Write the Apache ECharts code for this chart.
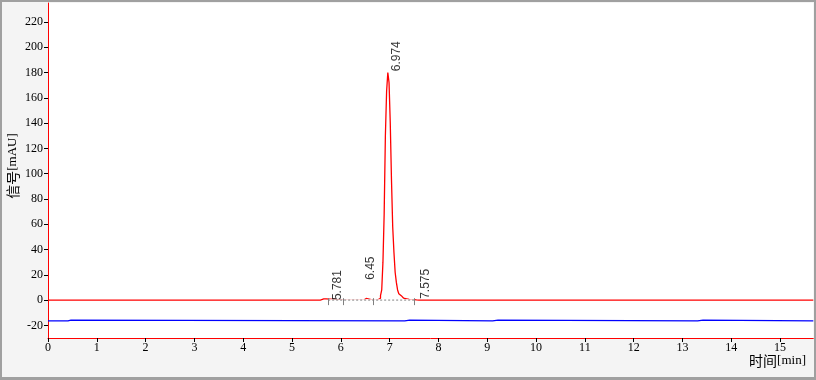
<!DOCTYPE html>
<html>
<head>
<meta charset="utf-8">
<script src="https://cdn.jsdelivr.net/npm/echarts@6/dist/echarts.min.js"></script>
<style>html,body{margin:0;padding:0;background:#f4f4f4}#c{width:816px;height:380px}</style>
</head>
<body>
<div id="c"></div>
<script>
// ---- data ----
var xTicks = [0,1,2,3,4,5,6,7,8,9,10,11,12,13,14,15];
var yTicks = [-20,0,20,40,60,80,100,120,140,160,180,200,220];
var signalTime = [0, 5.58, 5.6, 5.7, 5.72, 6.47, 6.49, 6.55, 6.57, 6.75, 6.775, 6.8, 6.825, 6.85, 6.875, 6.9, 6.925, 6.95, 6.975, 7.0, 7.025, 7.05, 7.075, 7.1, 7.125, 7.15, 7.175, 7.2, 7.225, 7.25, 7.275, 7.3, 7.325, 7.35, 7.375, 7.4, 7.45, 7.5, 7.55, 7.6, 15.68];
var signalValue = [0, 0, 0.9, 0.9, 0, 0, 1.3, 1.3, 0, 0, 0.5, 1.5, 3.5, 8, 30, 68, 130, 165, 180, 172, 140, 95, 58, 38, 22, 14, 8, 5, 3.5, 2.5, 2, 1.5, 1.2, 1, 0.8, 0.6, 0.4, 0.3, 0.1, 0, 0];
var refTime = [0, 0.41, 0.43, 0.47, 0.49, 0.51, 7.31, 7.33, 7.41, 7.43, 7.45, 9.11, 9.13, 9.22, 9.24, 9.26, 13.31, 13.33, 13.42, 13.44, 13.46, 15.68];
var refValue = [-16.4, -16.4, -15.8, -15.8, -16.6, -16.4, -16.4, -15.8, -15.8, -16.6, -16.4, -16.4, -15.8, -15.8, -16.6, -16.4, -16.4, -15.8, -15.8, -16.6, -16.4, -16.4];
var peakTime = [5.781, 6.45, 6.974, 7.575];
var peakLabel = ['5.781', '6.45', '6.974', '7.575'];
var peakLabelHeight = [0, 16, 181, 1];
var baseStart = 5.74, baseEnd = 7.508;
var baseMarks = [5.74, 6.045, 6.674, 7.508];

function zip(a, b) { return a.map(function (v, i) { return [v, b[i]]; }); }

var chart = echarts.init(document.getElementById('c'), null, {renderer: 'canvas'});
var serif = '"Liberation Serif","Noto Sans CJK SC",serif';
var cjk = '"Noto Sans CJK SC",sans-serif';
var nameRich = {
  c: {font: '14px ' + cjk, fill: '#000'},
  s: {font: '13px ' + serif, fill: '#000'}
};
chart.setOption({
  animation: false,
  backgroundColor: '#f4f4f4',
  grid: {left: 48, top: 3, right: 2.7, bottom: 42, show: true, backgroundColor: '#ffffff', borderWidth: 0},
  xAxis: {
    type: 'value', min: 0, max: 15.68,
    axisLine: {onZero: false, lineStyle: {color: '#ff0000', width: 1}},
    axisTick: {customValues: xTicks, length: 4, lineStyle: {color: '#000'}},
    axisLabel: {customValues: xTicks, color: '#000', fontFamily: serif, fontSize: 12, margin: 4},
    splitLine: {show: false}
  },
  yAxis: {
    type: 'value', min: -30, max: 235,
    axisLine: {onZero: false, lineStyle: {color: '#ff0000', width: 1}},
    axisTick: {customValues: yTicks, length: 4, lineStyle: {color: '#000'}},
    axisLabel: {customValues: yTicks, color: '#000', fontFamily: serif, fontSize: 12, margin: 5},
    splitLine: {show: false}
  },
  graphic: [
    {type: 'rect', shape: {x: 0, y: 0, width: 816, height: 2}, style: {fill: '#a0a0a0'}, z: 100},
    {type: 'rect', shape: {x: 0, y: 0, width: 2, height: 380}, style: {fill: '#a0a0a0'}, z: 100},
    {type: 'rect', shape: {x: 814, y: 0, width: 2, height: 380}, style: {fill: '#a0a0a0'}, z: 100},
    {type: 'rect', shape: {x: 0, y: 377, width: 816, height: 3}, style: {fill: '#a0a0a0'}, z: 100},
    {type: 'text', x: 13, y: 166, rotation: Math.PI / 2,
      style: {text: '{c|信号}{s|[mAU]}', rich: nameRich, align: 'center', verticalAlign: 'middle'}},
    {type: 'text', x: 806, y: 361,
      style: {text: '{c|时间}{s|[min]}', rich: nameRich, align: 'right', verticalAlign: 'middle'}}
  ],
  series: [
    {type: 'line', data: zip(refTime, refValue), showSymbol: false, lineStyle: {color: '#0000ff', width: 1.2}, z: 2},
    {type: 'line', data: zip(signalTime, signalValue), step: 'middle', showSymbol: false, lineStyle: {color: '#ff0000', width: 1.3}, z: 3},
    {type: 'line', data: [[baseStart, 0], [baseEnd, 0]], showSymbol: false, lineStyle: {color: '#ffffff', width: 1.6}, z: 4},
    {type: 'line', data: [[baseStart, 0], [baseEnd, 0]], showSymbol: false, lineStyle: {color: '#808080', width: 1, type: [2, 2]}, z: 5},
    {type: 'lines', coordinateSystem: 'cartesian2d', z: 5,
      data: baseMarks.map(function (t) { return {coords: [[t, 1.5], [t, -4]]}; }),
      lineStyle: {color: '#808080', width: 1, opacity: 1}},
    {type: 'scatter', symbolSize: 1, itemStyle: {color: 'rgba(0,0,0,0)'}, z: 6,
      data: peakTime.map(function (t, i) { return [t, peakLabelHeight[i]]; }),
      label: {show: true, position: 'right', distance: 7.5, rotate: 90, align: 'left', verticalAlign: 'middle',
        color: '#000', fontFamily: '"Liberation Sans",Arial,sans-serif', fontSize: 12,
        formatter: function (p) { return peakLabel[p.dataIndex]; }}}
  ]
});
</script>
</body>
</html>
